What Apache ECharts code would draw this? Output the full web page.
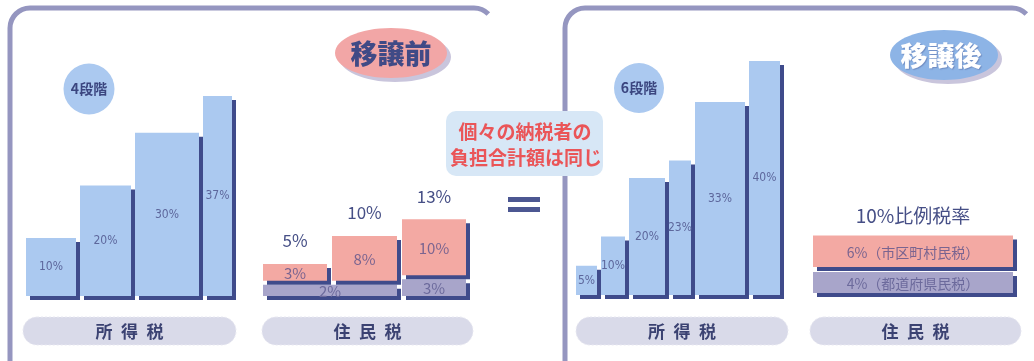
<!DOCTYPE html>
<html>
<head>
<meta charset="utf-8">
<script src="https://cdn.jsdelivr.net/npm/echarts@6/dist/echarts.min.js"></script>
<style>html,body{margin:0;padding:0;background:#fff}#c{width:1034px;height:361px}</style>
</head>
<body>
<div id="c"></div>
<script>
// ---- data ----
const incomeBeforeRates = [10, 20, 30, 37];
const incomeBeforeSpans = [54, 55, 68, 33];
const incomeAfterRates = [5, 10, 20, 23, 33, 40];
const incomeAfterSpans = [25, 28, 40, 26, 54, 35];
const residentBeforeMuni = [3, 8, 10];
const residentBeforePref = [2, 2, 3];
const residentBeforeSpans = [69, 70, 69];
const residentAfterMuni = [6];
const residentAfterPref = [4];
const residentAfterSpans = [1];
const muniName = '市区町村民税';
const prefName = '都道府県民税';
const flatSuffix = '%比例税率';
const stepsBefore = '4段階';
const stepsAfter = '6段階';
const titleBefore = '移譲前';
const titleAfter = '移譲後';
const incomeTaxName = '所得税';
const residentTaxName = '住民税';
const noteLines = ['個々の納税者の', '負担合計額は同じ'];

// ---- styles ----
const BLUE = '#abc9f0', NAVY = '#3f4b8b', PINK = '#f3a9a3', LAV = '#a8a5ca';
const JP = '"Noto Sans CJK JP", "Noto Sans", sans-serif';
const NARROW = '"Liberation Sans Narrow", "DejaVu Sans Condensed", "Liberation Sans", sans-serif';
const GAP = 4;

function cumulate(spans) {
  const out = []; let s = 0;
  spans.forEach(w => { out.push([s, s + w]); s += w; });
  return out;
}
function sum(a) { return a.reduce((x, y) => x + y, 0); }

function incomeData(rates, spans) {
  const c = cumulate(spans);
  return rates.map((r, i) => [c[i][0], c[i][1], r]);
}
function prefMerged(pref, spans) {
  const c = cumulate(spans); const out = [];
  pref.forEach((p, i) => {
    const last = out[out.length - 1];
    if (last && last[2] === p) last[1] = c[i][1];
    else out.push([c[i][0], c[i][1], p]);
  });
  return out;
}
function muniData(muni, pref, spans) {
  const c = cumulate(spans);
  return muni.map((m, i) => [c[i][0], c[i][1], pref[i], m]);
}

function shadowBar(x, y, w, h, fill) {
  return [
    { type: 'rect', shape: { x: x + 4, y: y + 4, width: w, height: h }, style: { fill: NAVY } },
    { type: 'rect', shape: { x: x, y: y, width: w, height: h }, style: { fill: fill } }
  ];
}

function incomeRender(params, api) {
  const s = api.value(0), e = api.value(1), v = api.value(2);
  const p0 = api.coord([s, v]), p1 = api.coord([e, v]);
  const base = params.coordSys.y + params.coordSys.height;
  const x = p0[0], w = p1[0] - p0[0] - GAP, y = p0[1], h = base - y;
  const kids = shadowBar(x, y, w, h, BLUE);
  kids.push({ type: 'text', style: { text: v + '%', x: x + w / 2, y: y + h / 2, align: 'center', verticalAlign: 'middle',
    fontSize: 12, fontFamily: NARROW, fill: '#5d679c' } });
  return { type: 'group', children: kids };
}

function prefRender(gapY, labelFn, fs) {
  return function (params, api) {
    const s = api.value(0), e = api.value(1), v = api.value(2);
    const p0 = api.coord([s, v]), p1 = api.coord([e, v]);
    const base = params.coordSys.y + params.coordSys.height;
    const x = p0[0], w = p1[0] - p0[0] - GAP - 1, y = p0[1], h = base - y;
    const kids = shadowBar(x, y, w, h, LAV);
    kids.push({ type: 'text', style: { text: labelFn(v), x: x + w / 2, y: y + h / 2 + 1, align: 'center', verticalAlign: 'middle',
      fontSize: fs, fontFamily: JP, fill: '#6c6a9c' } });
    return { type: 'group', children: kids };
  };
}

function muniRender(gapY, labelFn, totalFn, fs, tfs, toff) {
  return function (params, api) {
    const s = api.value(0), e = api.value(1), p = api.value(2), m = api.value(3);
    const pb = api.coord([s, p]), pt = api.coord([e, p + m]);
    const x = pb[0], w = pt[0] - pb[0] - GAP - 1;
    const yb = pb[1] - gapY, yt = pt[1] - gapY, h = yb - yt;
    const kids = shadowBar(x, yt, w, h, PINK);
    kids.push({ type: 'text', style: { text: labelFn(m), x: x + w / 2, y: yt + h / 2 + 1, align: 'center', verticalAlign: 'middle',
      fontSize: fs, fontFamily: JP, fill: '#7a6490' } });
    kids.push({ type: 'text', style: { text: totalFn(p + m), x: x + w / 2, y: yt - toff, align: 'center', verticalAlign: 'middle',
      fontSize: tfs, fontFamily: JP, fill: '#464f86' } });
    return { type: 'group', children: kids };
  };
}

const chart = echarts.init(document.getElementById('c'), null, { renderer: 'canvas' });

function pill(x, y, w, h, text) {
  return [
    { type: 'rect', shape: { x: x, y: y, width: w, height: h, r: h / 2 }, style: { fill: '#d9dae9', stroke: '#e9e9f2', lineWidth: 1, lineDash: [2, 2] }, z: 1 },
    { type: 'text', x: x + w / 2, y: y + h / 2 + 1, style: { text: text.split('').join('\u2002'), align: 'center', verticalAlign: 'middle',
      fontSize: 17, fontWeight: 'bold', fontFamily: JP, fill: '#3b4272' }, z: 2 }
  ];
}

const BORDER = { fill: null, stroke: '#9596c0', lineWidth: 5 };
function panel(left, right) {
  return [
    { type: 'line', shape: { x1: left, y1: 380, x2: left, y2: 28 }, style: BORDER, z: 0 },
    { type: 'arc', shape: { cx: left + 20, cy: 28, r: 20, startAngle: Math.PI, endAngle: Math.PI * 1.5, clockwise: true }, style: BORDER, z: 0 },
    { type: 'line', shape: { x1: left + 20, y1: 8, x2: right - 20, y2: 8 }, style: BORDER, z: 0 },
    { type: 'arc', shape: { cx: right - 20, cy: 28, r: 20, startAngle: Math.PI * 1.5, endAngle: Math.PI * 1.5 + 0.8, clockwise: true }, style: BORDER, z: 0 }
  ];
}

const graphic = [].concat(panel(10, 494)).concat(panel(565, 1032)).concat([
  // title ellipses
  { type: 'ellipse', shape: { cx: 395, cy: 57, rx: 56, ry: 25 }, style: { fill: '#c9c5dc' }, z: 1 },
  { type: 'ellipse', shape: { cx: 391, cy: 53, rx: 56, ry: 25 }, style: { fill: '#f2a6a6' }, z: 2 },
  { type: 'text', x: 391, y: 54, style: { text: titleBefore, align: 'center', verticalAlign: 'middle', fontSize: 27, fontWeight: 900, fontFamily: JP, fill: '#404a86' }, z: 3 },
  { type: 'ellipse', shape: { cx: 948, cy: 59, rx: 54, ry: 25 }, style: { fill: '#c9c5dc' }, z: 1 },
  { type: 'ellipse', shape: { cx: 944, cy: 55, rx: 54, ry: 25 }, style: { fill: '#8db4e6' }, z: 2 },
  { type: 'text', x: 941, y: 56, style: { text: titleAfter, align: 'center', verticalAlign: 'middle', fontSize: 27, fontWeight: 900, fontFamily: JP, fill: '#ffffff',
    textShadowColor: 'rgba(60,70,130,0.35)', textShadowOffsetX: 1, textShadowOffsetY: 1, textShadowBlur: 1 }, z: 3 },
  // step circles
  { type: 'circle', shape: { cx: 89, cy: 89, r: 25.5 }, style: { fill: '#abc9f0' }, z: 1 },
  { type: 'text', x: 89, y: 89, style: { text: stepsBefore, align: 'center', verticalAlign: 'middle', fontSize: 14, fontWeight: 'bold', fontFamily: JP, fill: '#3b4680' }, z: 2 },
  { type: 'circle', shape: { cx: 639, cy: 88, r: 25 }, style: { fill: '#abc9f0' }, z: 1 },
  { type: 'text', x: 639, y: 88, style: { text: stepsAfter, align: 'center', verticalAlign: 'middle', fontSize: 14, fontWeight: 'bold', fontFamily: JP, fill: '#3b4680' }, z: 2 },
  // note box
  { type: 'rect', shape: { x: 446, y: 111, width: 157, height: 65, r: 10 }, style: { fill: '#d7e7f6' }, z: 5 },
  { type: 'text', x: 525, y: 132, style: { text: noteLines[0], align: 'center', verticalAlign: 'middle', fontSize: 19, fontWeight: 'bold', fontFamily: JP, fill: '#ea5558' }, z: 6 },
  { type: 'text', x: 526, y: 158, style: { text: noteLines[1], align: 'center', verticalAlign: 'middle', fontSize: 19, fontWeight: 'bold', fontFamily: JP, fill: '#ea5558' }, z: 6 },
  // equals sign
  { type: 'rect', shape: { x: 508, y: 197, width: 32, height: 5 }, style: { fill: '#4c5792' }, z: 2 },
  { type: 'rect', shape: { x: 508, y: 207, width: 32, height: 5 }, style: { fill: '#4c5792' }, z: 2 }
]).concat(pill(23, 317, 213, 28, incomeTaxName))
 .concat(pill(262, 317, 211, 28, residentTaxName))
 .concat(pill(576, 317, 212, 28, incomeTaxName))
 .concat(pill(810, 317, 211, 28, residentTaxName));

const hiddenX = (max, i) => ({ type: 'value', gridIndex: i, min: 0, max: max, show: false });
const hiddenY = (min, max, i) => ({ type: 'value', gridIndex: i, min: min, max: max, show: false });

const rbMax = Math.max(...residentBeforeMuni.map((m, i) => m + residentBeforePref[i]));
const raMax = Math.max(...residentAfterMuni.map((m, i) => m + residentAfterPref[i]));

chart.setOption({
  animation: false,
  backgroundColor: '#ffffff',
  graphic: graphic,
  grid: [
    { left: 26, top: 96, width: 210, height: 200 },
    { left: 263, top: 223.2, width: 208, height: 72.8 },
    { left: 576, top: 61, width: 208, height: 234 },
    { left: 813, top: 240.5, width: 205, height: 52.5 }
  ],
  xAxis: [hiddenX(sum(incomeBeforeSpans), 0), hiddenX(sum(residentBeforeSpans), 1), hiddenX(sum(incomeAfterSpans), 2), hiddenX(sum(residentAfterSpans), 3)],
  yAxis: [hiddenY(-1, Math.max(...incomeBeforeRates), 0), hiddenY(0, rbMax, 1), hiddenY(0, Math.max(...incomeAfterRates), 2), hiddenY(0, raMax, 3)],
  series: [
    { type: 'custom', xAxisIndex: 0, yAxisIndex: 0, renderItem: incomeRender, data: incomeData(incomeBeforeRates, incomeBeforeSpans), z: 3 },
    { type: 'custom', xAxisIndex: 1, yAxisIndex: 1, renderItem: prefRender(4, v => v + '%', 15), data: prefMerged(residentBeforePref, residentBeforeSpans), z: 3 },
    { type: 'custom', xAxisIndex: 1, yAxisIndex: 1, renderItem: muniRender(4, v => v + '%', t => t + '%', 15, 17, 23), data: muniData(residentBeforeMuni, residentBeforePref, residentBeforeSpans), z: 4 },
    { type: 'custom', xAxisIndex: 2, yAxisIndex: 2, renderItem: incomeRender, data: incomeData(incomeAfterRates, incomeAfterSpans), z: 3 },
    { type: 'custom', xAxisIndex: 3, yAxisIndex: 3, renderItem: prefRender(5, v => v + '%（' + prefName + '）', 14), data: prefMerged(residentAfterPref, residentAfterSpans), z: 3 },
    { type: 'custom', xAxisIndex: 3, yAxisIndex: 3, renderItem: muniRender(5, v => v + '%（' + muniName + '）', t => t + flatSuffix, 14, 19, 20), data: muniData(residentAfterMuni, residentAfterPref, residentAfterSpans), z: 4 }
  ]
});
</script>
</body>
</html>
